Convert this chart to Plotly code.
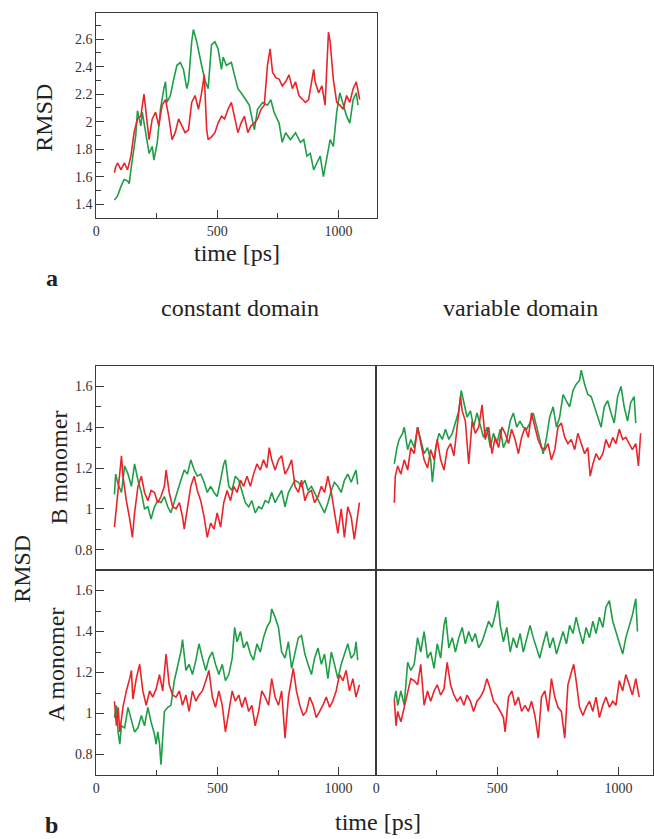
import plotly.graph_objects as go

# ---------------- data: panel a ----------------
a_green_t = [75, 88, 102, 115, 129, 136, 143, 156, 163, 170, 184, 190, 204, 218, 231, 238, 252, 265, 279, 286,
             292, 306, 320, 333, 347, 360, 374, 381, 394, 401, 415, 422, 435, 449, 462, 476, 490, 503, 517, 524,
             537, 558, 571, 585, 598, 619, 632, 653, 666, 687, 707, 721, 734, 755, 768, 782, 802, 823, 843, 857,
             870, 884, 898, 911, 925, 938, 952, 966, 979, 993, 1006, 1020, 1034, 1047, 1061, 1074, 1081]
a_green_v = [1.43, 1.46, 1.53, 1.58, 1.57, 1.55, 1.65, 1.82, 1.90, 2.08, 1.97, 2.07, 1.92, 1.77, 1.82, 1.72, 1.85, 2.09, 2.24, 2.29,
             2.14, 2.19, 2.31, 2.41, 2.43, 2.38, 2.24, 2.29, 2.58, 2.67, 2.58, 2.51, 2.41, 2.30, 2.24, 2.56, 2.58, 2.53, 2.38, 2.47,
             2.41, 2.43, 2.34, 2.24, 2.21, 2.16, 2.12, 1.94, 2.09, 2.14, 2.12, 2.16, 2.07, 1.99, 1.85, 1.92, 1.87, 1.92, 1.85, 1.87,
             1.75, 1.77, 1.65, 1.70, 1.75, 1.60, 1.75, 1.87, 1.82, 2.07, 2.21, 2.12, 2.04, 1.99, 2.16, 2.21, 2.12]

a_red_t = [75, 80, 88, 102, 116, 129, 143, 156, 170, 184, 197, 204, 218, 231, 245, 258, 272, 286, 299, 313,
           326, 340, 354, 367, 381, 394, 408, 422, 435, 446, 456, 462, 476, 490, 503, 517, 530, 544, 558, 571,
           585, 598, 612, 626, 639, 653, 666, 680, 694, 707, 718, 728, 741, 755, 768, 782, 796, 810, 823, 837,
           851, 864, 877, 891, 898, 904, 918, 932, 945, 959, 966, 979, 993, 1006, 1020, 1034, 1047, 1061, 1074, 1088]
a_red_v = [1.63, 1.67, 1.70, 1.65, 1.70, 1.65, 1.75, 1.92, 2.02, 2.04, 2.20, 2.09, 1.87, 2.02, 2.07, 1.97, 2.12, 2.16, 2.04, 1.87,
           1.92, 2.02, 1.97, 1.92, 1.94, 2.14, 2.19, 2.09, 2.21, 2.34, 1.94, 1.87, 1.89, 1.92, 1.99, 2.04, 2.02, 2.09, 2.14, 2.04,
           1.92, 1.99, 2.04, 1.92, 1.97, 1.99, 2.02, 2.09, 2.12, 2.41, 2.53, 2.36, 2.32, 2.31, 2.26, 2.29, 2.34, 2.24, 2.29, 2.19,
           2.16, 2.14, 2.16, 2.31, 2.38, 2.29, 2.21, 2.26, 2.12, 2.65, 2.58, 2.31, 2.14, 2.12, 2.09, 2.19, 2.14, 2.24, 2.29, 2.16]

# ---------------- data: panel b, B monomer, constant domain ----------------
bc_green_t = [75, 80, 90, 104, 117, 131, 145, 158, 172, 186, 199, 213, 226, 240, 254, 267, 281, 295, 308, 322,
              336, 349, 363, 376, 390, 404, 417, 431, 445, 458, 472, 486, 499, 513, 526, 533, 547, 560, 574, 588,
              601, 615, 629, 642, 656, 670, 683, 697, 711, 724, 738, 752, 765, 779, 793, 806, 820, 834, 847, 861,
              874, 888, 901, 915, 929, 942, 956, 970, 983, 997, 1011, 1024, 1038, 1052, 1065, 1072, 1079]
bc_green_v = [1.07, 1.17, 1.12, 1.08, 1.21, 1.17, 1.11, 1.22, 1.14, 1.08, 1.00, 1.01, 0.95, 1.01, 1.04, 1.03, 1.06, 1.01, 0.98, 1.03,
              1.09, 1.14, 1.19, 1.17, 1.24, 1.19, 1.16, 1.17, 1.13, 1.08, 1.11, 1.08, 1.06, 1.14, 1.22, 1.24, 1.11, 1.09, 1.16, 1.14,
              1.09, 1.03, 1.01, 1.04, 0.98, 1.01, 1.00, 1.04, 1.03, 1.08, 1.03, 1.06, 1.09, 1.01, 1.08, 1.11, 1.14, 1.13, 1.11, 1.14,
              1.09, 1.11, 1.08, 1.04, 1.01, 0.98, 1.03, 1.09, 1.13, 1.11, 1.08, 1.14, 1.17, 1.13, 1.17, 1.19, 1.12]

bc_red_t = [75, 83, 90, 104, 110, 124, 138, 149, 158, 172, 186, 199, 213, 226, 240, 254, 267, 281, 288, 301,
            315, 329, 343, 356, 363, 376, 390, 404, 417, 431, 445, 458, 472, 486, 499, 513, 526, 540, 554, 567,
            581, 595, 608, 622, 636, 649, 663, 677, 690, 704, 714, 724, 738, 752, 765, 779, 793, 806, 820, 834,
            847, 861, 874, 888, 901, 915, 929, 942, 956, 970, 983, 997, 1011, 1024, 1038, 1052, 1065, 1072, 1086]
bc_red_v = [0.91, 1.00, 1.11, 1.26, 1.16, 1.04, 0.95, 0.86, 0.98, 1.11, 1.16, 1.08, 1.04, 1.09, 1.08, 1.03, 1.06, 1.11, 1.19, 1.08,
            1.01, 1.00, 1.03, 0.96, 0.90, 1.01, 1.11, 1.16, 1.09, 1.04, 0.96, 0.86, 0.93, 0.90, 0.98, 0.91, 1.03, 1.09, 1.04, 1.11,
            1.08, 1.14, 1.11, 1.16, 1.11, 1.17, 1.22, 1.19, 1.24, 1.20, 1.30, 1.24, 1.19, 1.24, 1.26, 1.17, 1.20, 1.24, 1.11, 1.08,
            1.14, 1.04, 1.08, 1.09, 1.03, 1.06, 1.11, 1.08, 1.16, 1.08, 0.98, 0.88, 1.00, 0.86, 1.01, 0.96, 0.85, 0.91, 1.03]

# ---------------- data: panel b, B monomer, variable domain ----------------
bv_green_t = [75, 86, 95, 109, 116, 130, 143, 157, 171, 184, 198, 212, 225, 232, 246, 259, 273, 286, 300, 314,
              327, 341, 351, 361, 375, 389, 402, 416, 430, 443, 457, 471, 484, 498, 512, 525, 539, 553, 566, 580,
              593, 607, 621, 634, 648, 662, 675, 689, 703, 716, 730, 744, 757, 771, 784, 798, 812, 825, 839, 846,
              860, 873, 887, 900, 914, 928, 941, 955, 969, 982, 996, 1010, 1023, 1037, 1050, 1064, 1071]
bv_green_v = [1.22, 1.30, 1.34, 1.37, 1.40, 1.29, 1.34, 1.30, 1.40, 1.34, 1.27, 1.30, 1.24, 1.13, 1.30, 1.37, 1.34, 1.39, 1.34, 1.37,
              1.43, 1.48, 1.58, 1.53, 1.45, 1.48, 1.40, 1.47, 1.40, 1.35, 1.40, 1.30, 1.37, 1.32, 1.39, 1.30, 1.34, 1.43, 1.47, 1.40,
              1.43, 1.40, 1.39, 1.42, 1.47, 1.40, 1.35, 1.27, 1.35, 1.45, 1.50, 1.40, 1.45, 1.56, 1.53, 1.50, 1.58, 1.61, 1.63, 1.68,
              1.61, 1.56, 1.55, 1.50, 1.45, 1.40, 1.50, 1.53, 1.47, 1.42, 1.55, 1.60, 1.50, 1.43, 1.52, 1.55, 1.42]

bv_red_t = [75, 79, 89, 102, 116, 130, 143, 157, 171, 184, 198, 212, 225, 239, 252, 266, 280, 293, 307, 321,
            334, 348, 355, 368, 382, 396, 409, 423, 437, 450, 464, 478, 491, 505, 519, 532, 546, 559, 573, 587,
            600, 614, 628, 641, 655, 668, 682, 696, 709, 723, 737, 750, 764, 778, 791, 805, 819, 832, 846, 860,
            873, 883, 894, 907, 921, 935, 948, 962, 976, 989, 1003, 1017, 1030, 1044, 1057, 1071, 1082, 1091]
bv_red_v = [1.03, 1.16, 1.21, 1.17, 1.24, 1.19, 1.30, 1.27, 1.40, 1.32, 1.24, 1.20, 1.29, 1.24, 1.34, 1.24, 1.19, 1.29, 1.32, 1.26,
            1.39, 1.55, 1.48, 1.43, 1.22, 1.43, 1.37, 1.40, 1.51, 1.34, 1.40, 1.27, 1.35, 1.30, 1.40, 1.37, 1.32, 1.39, 1.34, 1.27,
            1.35, 1.40, 1.35, 1.47, 1.40, 1.34, 1.30, 1.29, 1.32, 1.24, 1.29, 1.40, 1.42, 1.35, 1.32, 1.34, 1.29, 1.37, 1.32, 1.27,
            1.30, 1.16, 1.22, 1.27, 1.24, 1.27, 1.34, 1.30, 1.35, 1.32, 1.39, 1.34, 1.35, 1.32, 1.29, 1.32, 1.21, 1.37]

# ---------------- data: panel b, A monomer, constant domain ----------------
ac_green_t = [75, 83, 90, 97, 104, 117, 131, 145, 158, 172, 186, 199, 213, 226, 240, 247, 254, 261, 267, 274,
              281, 295, 308, 322, 336, 349, 356, 370, 383, 397, 411, 424, 438, 452, 465, 479, 492, 506, 520, 533,
              547, 561, 571, 581, 595, 608, 622, 636, 649, 663, 677, 690, 704, 718, 724, 738, 752, 765, 779, 793,
              806, 820, 834, 847, 861, 874, 888, 901, 915, 929, 942, 956, 970, 983, 997, 1011, 1024, 1038, 1052, 1065,
              1072, 1079]
ac_green_v = [0.98, 1.04, 0.91, 0.85, 0.94, 0.93, 1.03, 0.96, 0.91, 0.93, 0.99, 0.94, 1.03, 0.96, 0.90, 0.85, 0.91, 0.85, 0.75, 0.88,
              1.01, 1.03, 1.04, 1.16, 1.24, 1.30, 1.36, 1.21, 1.24, 1.19, 1.26, 1.34, 1.27, 1.21, 1.27, 1.30, 1.24, 1.19, 1.24, 1.16,
              1.19, 1.27, 1.42, 1.35, 1.40, 1.32, 1.35, 1.29, 1.26, 1.34, 1.30, 1.37, 1.42, 1.45, 1.51, 1.47, 1.42, 1.30, 1.27, 1.35,
              1.22, 1.30, 1.37, 1.38, 1.29, 1.24, 1.19, 1.27, 1.32, 1.24, 1.29, 1.17, 1.30, 1.24, 1.17, 1.24, 1.29, 1.34, 1.27, 1.29,
              1.35, 1.26]

ac_red_t = [75, 83, 90, 97, 110, 124, 138, 145, 151, 165, 179, 192, 206, 220, 233, 247, 261, 274, 288, 301,
            315, 329, 343, 356, 370, 383, 397, 411, 424, 438, 452, 465, 479, 492, 506, 520, 533, 547, 561, 574,
            588, 601, 615, 629, 642, 656, 670, 683, 697, 711, 724, 738, 752, 765, 779, 793, 806, 813, 826, 840,
            854, 867, 881, 895, 908, 922, 935, 949, 963, 976, 990, 1004, 1018, 1031, 1045, 1059, 1072, 1086]
ac_red_v = [1.06, 0.94, 1.03, 0.91, 1.03, 1.11, 1.17, 1.21, 1.07, 1.17, 1.24, 1.11, 1.04, 1.11, 1.08, 1.12, 1.19, 1.11, 1.29, 1.14,
            1.09, 1.08, 1.11, 1.04, 1.09, 1.01, 1.11, 1.06, 1.09, 1.11, 1.16, 1.21, 1.08, 1.03, 1.11, 1.04, 0.91, 1.01, 1.11, 1.06,
            1.09, 1.03, 1.08, 1.01, 1.04, 0.94, 1.01, 1.11, 1.08, 1.04, 1.17, 1.08, 1.04, 1.11, 0.88, 1.08, 1.16, 1.22, 1.11, 1.04,
            0.99, 1.01, 1.08, 1.04, 0.98, 1.01, 1.04, 1.08, 1.03, 1.06, 1.11, 1.19, 1.16, 1.21, 1.11, 1.17, 1.08, 1.14]

# ---------------- data: panel b, A monomer, variable domain ----------------
av_green_t = [75, 82, 89, 102, 116, 130, 143, 157, 171, 184, 198, 212, 225, 239, 252, 266, 280, 287, 300, 314,
              327, 341, 355, 368, 382, 396, 409, 423, 437, 450, 464, 478, 491, 502, 512, 525, 539, 553, 566, 580,
              594, 607, 621, 635, 648, 662, 675, 689, 703, 716, 730, 744, 757, 771, 785, 798, 812, 825, 839, 853,
              866, 880, 894, 907, 921, 935, 948, 962, 976, 989, 1003, 1017, 1030, 1044, 1057, 1071, 1078]
av_green_v = [1.07, 1.11, 1.04, 1.11, 1.04, 1.25, 1.21, 1.24, 1.37, 1.30, 1.40, 1.27, 1.30, 1.22, 1.34, 1.27, 1.43, 1.47, 1.32, 1.37,
              1.30, 1.37, 1.42, 1.34, 1.40, 1.35, 1.39, 1.32, 1.35, 1.40, 1.45, 1.42, 1.48, 1.55, 1.43, 1.35, 1.42, 1.30, 1.37, 1.32,
              1.39, 1.30, 1.37, 1.43, 1.37, 1.32, 1.27, 1.34, 1.40, 1.32, 1.37, 1.29, 1.35, 1.40, 1.34, 1.43, 1.39, 1.47, 1.40, 1.34,
              1.42, 1.37, 1.45, 1.39, 1.47, 1.42, 1.52, 1.55, 1.45, 1.40, 1.34, 1.29, 1.37, 1.43, 1.48, 1.56, 1.40]

av_red_t = [75, 82, 89, 102, 116, 130, 143, 157, 171, 184, 198, 212, 225, 239, 252, 266, 280, 293, 307, 321,
            334, 348, 362, 375, 389, 402, 416, 430, 443, 457, 471, 484, 498, 512, 525, 532, 546, 560, 573, 587,
            600, 614, 628, 641, 655, 669, 682, 696, 710, 723, 737, 750, 764, 778, 791, 805, 815, 825, 839, 853,
            866, 880, 894, 907, 921, 935, 948, 962, 976, 989, 1003, 1017, 1030, 1044, 1057, 1071, 1085]
av_red_v = [1.07, 0.94, 1.01, 0.96, 1.03, 1.11, 1.17, 1.16, 1.14, 1.24, 1.04, 1.11, 1.06, 1.11, 1.14, 1.09, 1.12, 1.25, 1.14, 1.09,
            1.06, 1.08, 1.04, 1.09, 1.06, 1.01, 1.06, 1.08, 1.11, 1.17, 1.12, 1.06, 1.04, 1.01, 0.98, 0.91, 1.08, 1.11, 1.04, 1.08,
            1.01, 1.04, 1.01, 1.06, 0.99, 0.88, 1.08, 1.11, 1.01, 1.17, 1.08, 1.03, 1.01, 0.88, 1.14, 1.20, 1.24, 1.16, 1.03, 0.99,
            1.03, 1.06, 1.01, 1.08, 0.98, 1.04, 1.08, 1.03, 1.06, 1.04, 1.16, 1.11, 1.19, 1.14, 1.09, 1.17, 1.08]

panel_titles = ["constant domain", "variable domain"]
row_labels = ["B monomer", "A monomer"]

# ---------------- styling ----------------
GREEN = "#1f9e48"
RED = "#e8252b"
FRAME = "#3a3a3a"
FONT = "Liberation Serif"
W, H = 654, 839


def px(x):
    return x / W


def py(y):
    return 1 - y / H


fig = go.Figure()


def add(t, v, color, xa, ya):
    fig.add_trace(go.Scatter(x=t[:len(v)], y=v[:len(t)], mode="lines",
                             line=dict(color=color, width=1.6),
                             xaxis=xa, yaxis=ya, showlegend=False, hoverinfo="skip"))


add(a_green_t, a_green_v, GREEN, "x", "y")
add(a_red_t, a_red_v, RED, "x", "y")
add(bc_green_t, bc_green_v, GREEN, "x2", "y2")
add(bc_red_t, bc_red_v, RED, "x2", "y2")
add(bv_green_t, bv_green_v, GREEN, "x3", "y3")
add(bv_red_t, bv_red_v, RED, "x3", "y3")
add(ac_green_t, ac_green_v, GREEN, "x4", "y4")
add(ac_red_t, ac_red_v, RED, "x4", "y4")
add(av_green_t, av_green_v, GREEN, "x5", "y5")
add(av_red_t, av_red_v, RED, "x5", "y5")

tickfont = dict(family=FONT, size=14, color="#333")


def xax(domain, rng, anchor, labels=True, ticks=True):
    d = dict(domain=domain, range=rng, anchor=anchor, showline=True, mirror=True,
             linecolor=FRAME, linewidth=1, showgrid=False, zeroline=False,
             tick0=0, dtick=500, tickfont=tickfont, showticklabels=labels,
             ticks="inside" if ticks else "", ticklen=8, tickcolor=FRAME, tickwidth=1)
    if ticks:
        d["minor"] = dict(dtick=250, tick0=0, ticks="inside", ticklen=5, tickcolor=FRAME, tickwidth=1)
    return d


def yax(domain, rng, anchor, labels=True, ticks=True):
    d = dict(domain=domain, range=rng, anchor=anchor, showline=True, mirror=True,
             linecolor=FRAME, linewidth=1, showgrid=False, zeroline=False,
             tick0=0, dtick=0.2, tickfont=tickfont, showticklabels=labels,
             ticks="inside" if ticks else "", ticklen=8, tickcolor=FRAME, tickwidth=1)
    if ticks:
        d["minor"] = dict(dtick=0.1, tick0=0, ticks="inside", ticklen=5, tickcolor=FRAME, tickwidth=1)
    return d


xl = [px(93), px(375)]
xr = [px(375), 1.0]
yt = [py(570), py(366)]
yb = [py(775), py(570)]

fig.update_layout(
    width=W, height=H, margin=dict(l=0, r=0, t=0, b=0),
    paper_bgcolor="white", plot_bgcolor="white",
    xaxis=xax([px(93), px(376)], [0, 1160], "y"),
    yaxis=yax([py(218), py(13)], [1.3, 2.79], "x"),
    xaxis2=xax(xl, [0, 1155], "y2", labels=False, ticks=False),
    yaxis2=yax(yt, [0.7, 1.7], "x2"),
    xaxis3=xax(xr, [0, 1142], "y3", labels=False, ticks=False),
    yaxis3=yax(yt, [0.7, 1.7], "x3", labels=False, ticks=False),
    xaxis4=xax(xl, [0, 1155], "y4"),
    yaxis4=yax(yb, [0.7, 1.7], "x4"),
    xaxis5=xax(xr, [0, 1142], "y5"),
    yaxis5=yax(yb, [0.7, 1.7], "x5", labels=False, ticks=False),
)

tf = dict(family=FONT, size=24, color="#222")


def note(text, x, y, angle=0, font=tf):
    fig.add_annotation(text=text, x=px(x), y=py(y), xref="paper", yref="paper",
                       showarrow=False, textangle=angle, font=font,
                       xanchor="center", yanchor="middle")


note("RMSD", 40, 118, -90)
note("time [ps]", 235, 253)
note("<b>a</b>", 48, 278)
note(panel_titles[0], 238, 308)
note(panel_titles[1], 520, 308)
note("RMSD", 18, 569, -90)
note(row_labels[0], 55, 468, -90)
note(row_labels[1], 52, 665, -90)
note("time [ps]", 377, 822)
note("<b>b</b>", 48, 825)

fig.write_html("out.html")
